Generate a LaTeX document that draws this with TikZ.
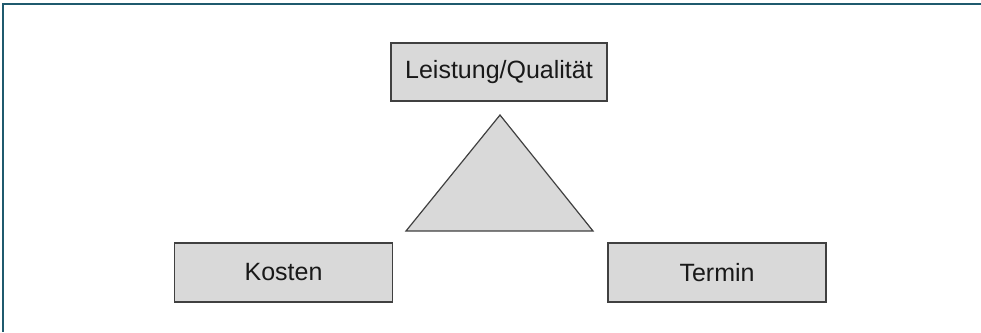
\documentclass[tikz,border=0pt]{standalone}
\usepackage{fontspec}
\setmainfont{Liberation Sans}
\definecolor{frameblue}{HTML}{1F5A6E}
\definecolor{boxfill}{HTML}{D9D9D9}
\definecolor{boxline}{HTML}{404040}
\tikzset{
  goalbox/.style={draw=boxline, fill=boxfill, line width=1.4pt, inner sep=0pt,
    font=\fontsize{25}{30}\selectfont, text=black!90},
}
\begin{document}
\begin{tikzpicture}[x=1pt,y=-1pt]
\useasboundingbox (0,0) rectangle (981,332);
\draw[frameblue, line width=1.6pt] (981,4) -- (3,4) -- (3,332);
\node[goalbox, minimum width=216pt, minimum height=58pt] (lq) at (499,72) {Leistung/Qualität};
\node[goalbox, minimum width=218pt, minimum height=59pt] (ko) at (283.5,272.5) {Kosten};
\node[goalbox, minimum width=218pt, minimum height=59pt] (te) at (717,272.5) {Termin};
\coordinate (apex) at (500,115);
\coordinate (bl) at (406,231);
\coordinate (br) at (593,231);
\draw[boxline, fill=boxfill, line width=1.2pt, line join=miter] (apex) -- (br) -- (bl) -- cycle;
\end{tikzpicture}
\end{document}
